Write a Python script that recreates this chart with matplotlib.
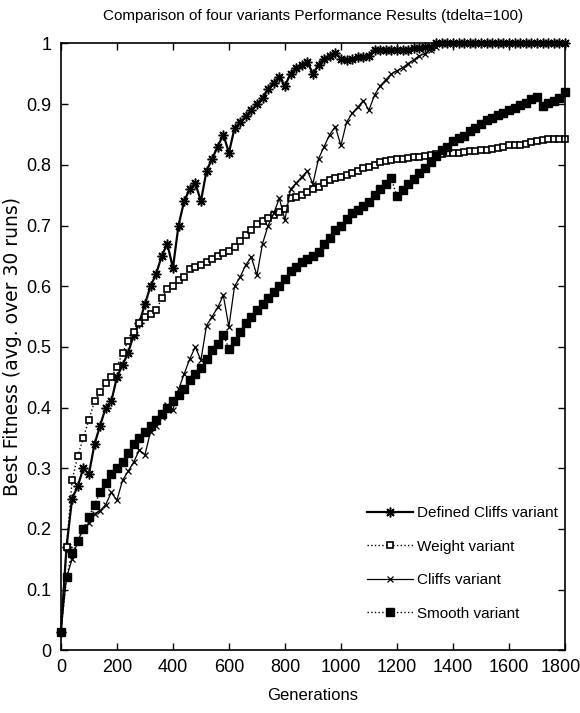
import matplotlib
matplotlib.use("Agg")
import matplotlib.pyplot as plt
import matplotlib.transforms as mtransforms
import numpy as np

generations = list(range(0, 1801, 20))

defined_cliffs = [
    0.03, 0.17, 0.25, 0.27, 0.30, 0.29, 0.34, 0.37, 0.40, 0.41,
    0.45, 0.47, 0.49, 0.52, 0.54, 0.57, 0.60, 0.62, 0.65, 0.67,
    0.63, 0.70, 0.74, 0.76, 0.77, 0.74, 0.79, 0.81, 0.83, 0.85,
    0.82, 0.86, 0.87, 0.88, 0.89, 0.90, 0.91, 0.925, 0.935, 0.945,
    0.93, 0.95, 0.96, 0.965, 0.97, 0.95, 0.965, 0.975, 0.98, 0.985,
    0.975, 0.972, 0.975, 0.977, 0.978, 0.98, 0.99, 0.99, 0.99, 0.99,
    0.99, 0.99, 0.99, 0.992, 0.992, 0.995, 0.995, 1.0, 1.0, 1.0,
    1.0, 1.0, 1.0, 1.0, 1.0, 1.0, 1.0, 1.0, 1.0, 1.0,
    1.0, 1.0, 1.0, 1.0, 1.0, 1.0, 1.0, 1.0, 1.0, 1.0,
    1.0,
]

weight = [
    0.03, 0.17, 0.28, 0.32, 0.35, 0.38, 0.41, 0.425, 0.44, 0.45,
    0.467, 0.49, 0.51, 0.525, 0.54, 0.55, 0.555, 0.56, 0.58, 0.595,
    0.60, 0.61, 0.615, 0.628, 0.632, 0.635, 0.64, 0.645, 0.65, 0.654,
    0.658, 0.665, 0.675, 0.685, 0.692, 0.703, 0.708, 0.712, 0.718, 0.722,
    0.727, 0.745, 0.747, 0.75, 0.755, 0.76, 0.764, 0.77, 0.775, 0.778,
    0.78, 0.783, 0.786, 0.79, 0.795, 0.797, 0.80, 0.805, 0.807, 0.808,
    0.809, 0.81, 0.812, 0.813, 0.813, 0.815, 0.816, 0.818, 0.818, 0.819,
    0.82, 0.82, 0.821, 0.822, 0.823, 0.824, 0.824, 0.826, 0.828, 0.83,
    0.832, 0.832, 0.833, 0.835, 0.838, 0.84, 0.841, 0.842, 0.842, 0.842,
    0.842,
]

cliffs = [
    0.03, 0.12, 0.15, 0.18, 0.20, 0.21, 0.225, 0.23, 0.24, 0.26,
    0.247, 0.28, 0.295, 0.31, 0.33, 0.322, 0.36, 0.37, 0.385, 0.405,
    0.396, 0.43, 0.455, 0.48, 0.50, 0.478, 0.535, 0.55, 0.565, 0.585,
    0.533, 0.60, 0.615, 0.635, 0.648, 0.618, 0.67, 0.70, 0.72, 0.745,
    0.709, 0.76, 0.77, 0.78, 0.79, 0.769, 0.81, 0.83, 0.85, 0.863,
    0.832, 0.87, 0.885, 0.895, 0.906, 0.89, 0.915, 0.93, 0.94, 0.95,
    0.955, 0.96, 0.967, 0.973, 0.98, 0.983, 0.99, 0.995, 1.0, 1.0,
    1.0, 1.0, 1.0, 1.0, 1.0, 1.0, 1.0, 1.0, 1.0, 1.0,
    1.0, 1.0, 1.0, 1.0, 1.0, 1.0, 1.0, 1.0, 1.0, 1.0,
    1.0,
]

smooth = [
    0.03, 0.12, 0.16, 0.18, 0.20, 0.22, 0.24, 0.26, 0.275, 0.29,
    0.30, 0.31, 0.325, 0.34, 0.35, 0.36, 0.37, 0.38, 0.39, 0.40,
    0.41, 0.42, 0.43, 0.445, 0.455, 0.465, 0.48, 0.495, 0.505, 0.52,
    0.497, 0.51, 0.525, 0.54, 0.55, 0.56, 0.57, 0.58, 0.59, 0.60,
    0.612, 0.625, 0.632, 0.64, 0.645, 0.65, 0.656, 0.67, 0.68, 0.693,
    0.70, 0.71, 0.72, 0.725, 0.732, 0.738, 0.75, 0.76, 0.768, 0.778,
    0.748, 0.758, 0.768, 0.777, 0.787, 0.795, 0.805, 0.815, 0.825, 0.83,
    0.84, 0.845, 0.848, 0.855, 0.86, 0.868, 0.874, 0.878, 0.882, 0.886,
    0.89, 0.894, 0.898, 0.902, 0.908, 0.912, 0.897, 0.902, 0.905, 0.91,
    0.92,
]

labels = ["Defined Cliffs variant", "Weight variant", "Cliffs variant", "Smooth variant"]
x_ticks = list(range(0, 1801, 200))
y_ticks = [0, 0.1, 0.2, 0.3, 0.4, 0.5, 0.6, 0.7, 0.8, 0.9, 1]
y_tick_labels = ["0", "0.1", "0.2", "0.3", "0.4", "0.5", "0.6", "0.7", "0.8", "0.9", "1"]

plt.rcParams["font.family"] = ["Liberation Sans", "DejaVu Sans"]

fig = plt.figure(figsize=(5.8, 7.13), dpi=100)
ax = fig.add_axes([0.105, 0.088, 0.869, 0.851])

asterisk = (8, 2, 0)
ax.plot(generations, defined_cliffs, color="black", linestyle="-", linewidth=1.6,
        marker=asterisk, markersize=7, markeredgewidth=1.1, clip_on=False,
        label=labels[0])
ax.plot(generations, weight, color="black", linestyle=":", linewidth=1.0,
        marker="s", markersize=5, markerfacecolor="white", markeredgewidth=1.2,
        clip_on=False, label=labels[1])
ax.plot(generations, cliffs, color="black", linestyle="-", linewidth=0.9,
        marker="x", markersize=5, markeredgewidth=0.9, clip_on=False,
        label=labels[2])
ax.plot(generations, smooth, color="black", linestyle=":", linewidth=1.0,
        marker="s", markersize=6, markerfacecolor="black", clip_on=False,
        label=labels[3])

ax.set_xlim(0, 1800)
ax.set_ylim(0, 1)
ax.set_xticks(x_ticks)
ax.set_xticklabels([str(t) for t in x_ticks])
ax.set_yticks(y_ticks)
ax.set_yticklabels(y_tick_labels)
ax.tick_params(direction="in", length=5, width=1, top=True, right=True,
               labelsize=13)
ax.tick_params(axis="y", pad=7)
ax.tick_params(axis="x", pad=6)
for s in ax.spines.values():
    s.set_linewidth(1.2)

# keep the last x tick label inside the figure edge
last = ax.get_xticklabels()[-1]
last.set_transform(last.get_transform() +
                   mtransforms.ScaledTranslation(-4 / 100, 0, fig.dpi_scale_trans))

ax.set_title("Comparison of four variants Performance Results (tdelta=100)",
             fontsize=11, pad=17)
ax.set_xlabel("Generations", fontsize=12, labelpad=9)
ax.set_ylabel("Best Fitness (avg. over 30 runs)", fontsize=13.5,
              family=["DejaVu Sans"], labelpad=3)

leg = ax.legend(loc="upper left", bbox_to_anchor=(367 / 580, 1 - 506 / 713),
                bbox_transform=fig.transFigure, frameon=False, fontsize=11,
                handlelength=3.0, handletextpad=0.3, labelspacing=1.28,
                borderpad=0, borderaxespad=0)

fig.savefig("out.png", dpi=100)
